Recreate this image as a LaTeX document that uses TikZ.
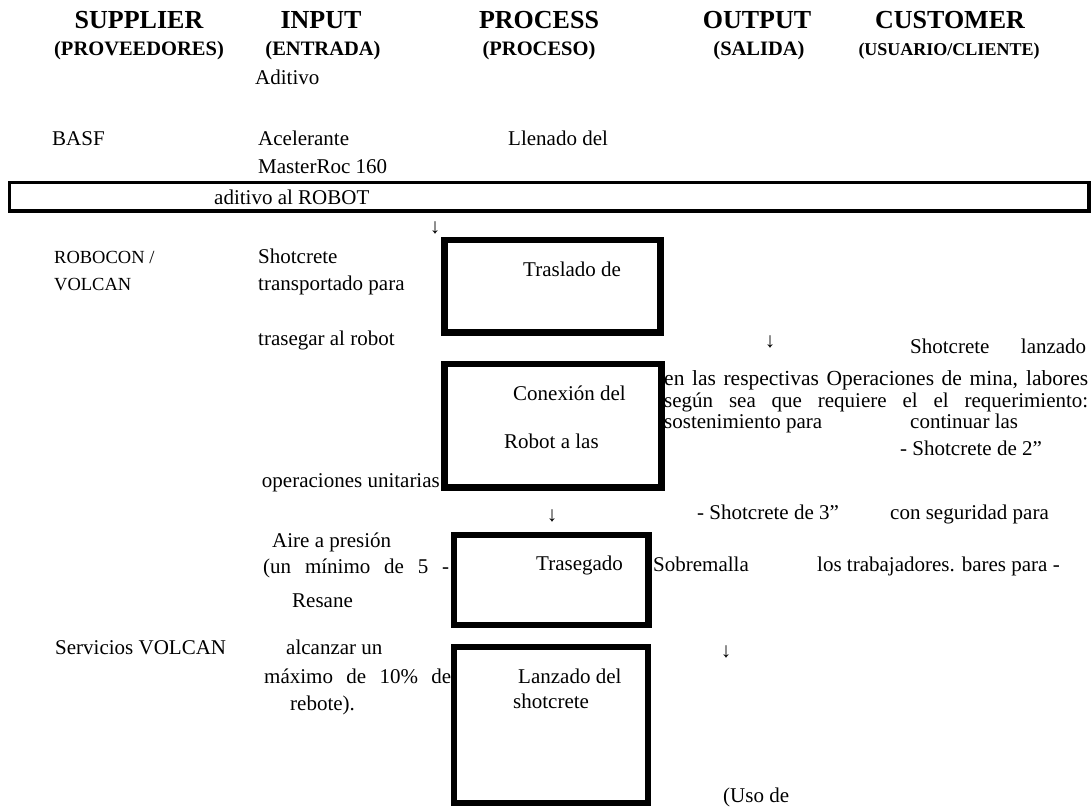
\documentclass[tikz,border=0pt]{standalone}
\usepackage{fontspec}
\setmainfont{Liberation Serif}
\usepackage{tikz}

\begin{document}
\begin{tikzpicture}[x=1pt,y=-1pt,
    txt/.style={anchor=base west,inner sep=0pt,font=\fontsize{21}{21}\selectfont},
    txtright/.style={txt,anchor=base east},
    smalltxt/.style={txt,font=\fontsize{18.5}{18.5}\selectfont},
    hdr/.style={anchor=base,inner sep=0pt,font=\fontsize{26}{26}\selectfont\bfseries},
    subhdr/.style={anchor=base,inner sep=0pt,font=\fontsize{20.5}{20.5}\selectfont\bfseries},
    downarr/.style={anchor=center,inner sep=0pt,font=\fontsize{21}{21}\selectfont},
    procbox/.style={line width=6.5pt}]
    \useasboundingbox (0,0) rectangle (1091,807);

    \coordinate (W1) at (9.5,182.5);
    \coordinate (W2) at (1089,211);

    \coordinate (P1) at (444.5,240);
    \coordinate (P2) at (660.5,332.5);
    \coordinate (Q1) at (444.5,364);
    \coordinate (Q2) at (661.5,487.5);
    \coordinate (R1) at (454,535);
    \coordinate (R2) at (648.5,625);
    \coordinate (S1) at (454,647);
    \coordinate (S2) at (648,803);

    \draw[line width=3.2pt] (W1) rectangle (W2);
    \draw[procbox] (P1) rectangle (P2);
    \draw[procbox] (Q1) rectangle (Q2);
    \draw[procbox] (R1) rectangle (R2);
    \draw[procbox] (S1) rectangle (S2);

%headers
    \node[hdr] (supp) at (139,28) {SUPPLIER};
    \node[subhdr] (suppsub) at (139,55) {(PROVEEDORES)};
    \node[hdr] (inp) at (321,28) {INPUT};
    \node[subhdr] (inpsub) at (323,55) {(ENTRADA)};
    \node[hdr] (proc) at (539,28) {PROCESS};
    \node[subhdr] (procsub) at (539,55) {(PROCESO)};
    \node[hdr] (outp) at (757,28) {OUTPUT};
    \node[subhdr] (outpsub) at (759,55) {(SALIDA)};
    \node[hdr] (cust) at (950,28) {CUSTOMER};
    \node[subhdr,font=\fontsize{18}{18}\selectfont\bfseries] (custsub) at (949,55) {(USUARIO/CLIENTE)};

%labels
    \node[txt] (aditivo) at (255,84) {Aditivo};
    \node[txt] (basf) at (52,145) {BASF};
    \node[txt] (acel) at (258,145) {Acelerante};
    \node[txt] (mroc) at (258,173) {MasterRoc 160};
    \node[txt] (llenado) at (508,145) {Llenado del};
    \node[txt] (adrobot) at (214,204) {aditivo al ROBOT};

    \node[smalltxt] (robocon) at (54,263) {ROBOCON /};
    \node[smalltxt] (volcan) at (54,290) {VOLCAN};
    \node[txt] (shot) at (258,263) {Shotcrete};
    \node[txt] (transp) at (258,290) {transportado para};
    \node[txt] (traseg) at (258,345) {trasegar al robot};
    \node[txtright] (opunit) at (440,487) {operaciones unitarias};

    \node[txt] (aire) at (272,547) {Aire a presión};
    \node[txt] (unmin) at (263,573) {\makebox[186pt][s]{(un mínimo de 5 -}};
    \node[txt] (resane) at (292,607) {Resane};
    \node[txt] (serv) at (55,654) {Servicios VOLCAN};
    \node[txt] (alcanz) at (286,654) {alcanzar un};
    \node[txt] (maxim) at (264,683) {\makebox[187pt][s]{máximo de 10\% de}};
    \node[txt] (rebote) at (290,710) {rebote).};

    \node[txt] (traslado) at (523,276) {Traslado de};
    \node[txt] (conex) at (513,400) {Conexión del};
    \node[txt] (robotlas) at (504,448) {Robot a las};
    \node[txt] (trasegado) at (536,570) {Trasegado};
    \node[txt] (lanzado) at (518,683) {Lanzado del};
    \node[txt] (shotcr) at (513,708) {shotcrete};

    \node[txt] (shlanz) at (910,353) {\makebox[176pt][s]{Shotcrete lanzado}};
    \node[txt,font=\fontsize{21.5}{21.5}\selectfont] (par1) at (664,385) {\makebox[424pt][s]{en las respectivas Operaciones de mina, labores}};
    \node[txt] (par2) at (664,407) {\makebox[424pt][s]{según sea que requiere el el requerimiento:}};
    \node[txt] (sosten) at (664,428) {sostenimiento para};
    \node[txt] (contin) at (910,428) {continuar las};
    \node[txt] (shdos) at (900,455) {- Shotcrete de 2”};
    \node[txt] (shtres) at (697,519) {- Shotcrete de 3”};
    \node[txt] (conseg) at (890,519) {con seguridad para};
    \node[txt] (sobrem) at (653,571) {Sobremalla};
    \node[txt] (lostrab) at (817,571) {los trabajadores. bares para -};
    \node[txt] (usode) at (723,802) {(Uso de};

    \node[downarr] (arr1) at (435,228) {↓};
    \node[downarr] (arr2) at (552,516) {↓};
    \node[downarr] (arr3) at (770,342) {↓};
    \node[downarr] (arr4) at (726,652) {↓};

\end{tikzpicture}
\end{document}
